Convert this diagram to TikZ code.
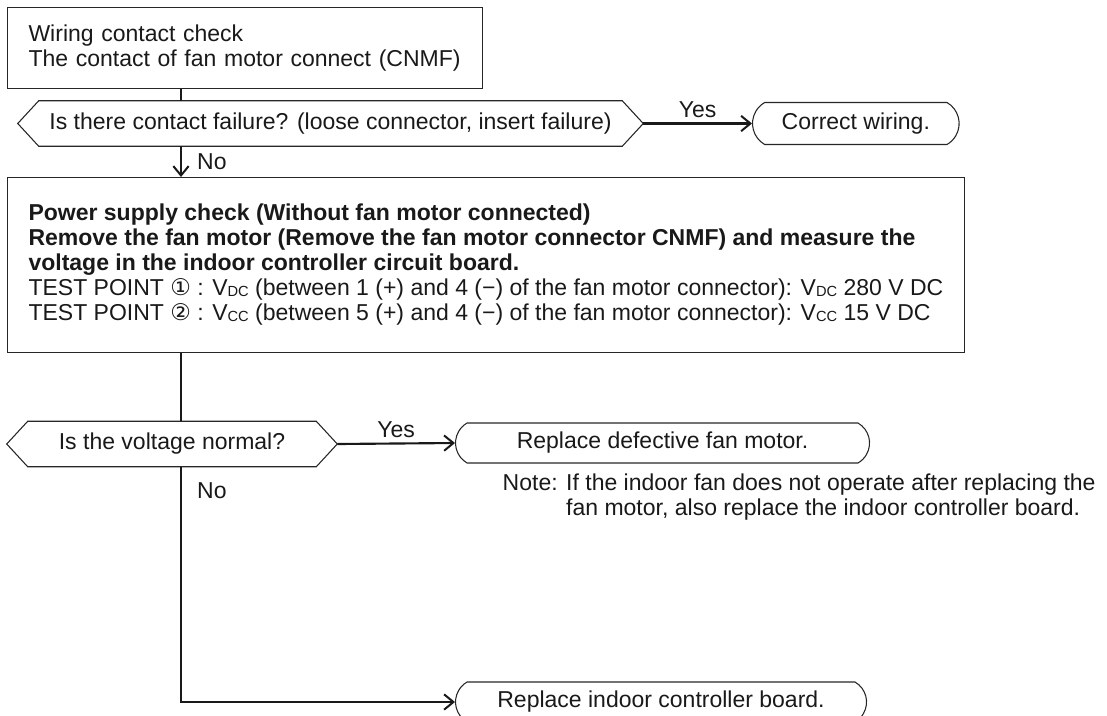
\documentclass[tikz,border=0pt]{standalone}
\usepackage{fontspec}
\setmainfont{Liberation Sans}
\newfontfamily\symfont{DejaVu Sans}
\usetikzlibrary{arrows.meta,shapes.misc}
\newcommand{\vsub}[1]{\raisebox{-0.7pt}{\fontsize{11}{11}\selectfont #1}}
\newcommand{\hexframe}[1]{\draw[shapeline] (#1.west) -- ([xshift=15.75pt]#1.north west) -- ([xshift=-15.75pt]#1.north east) -- (#1.east) -- ([xshift=-15.75pt]#1.south east) -- ([xshift=15.75pt]#1.south west) -- cycle;}

\begin{document}
\begin{tikzpicture}[x=0.75pt,y=0.75pt,yscale=-1,xscale=1,
  every node/.style={font=\fontsize{17.25}{18.75}\selectfont, text=black!90},
  shapeline/.style={draw=black!85, line width=0.8pt},
  stepbox/.style={shapeline, rectangle, align=left, inner xsep=15.75pt},
  askbox/.style={inner sep=0pt, minimum height=33.75pt},
  stopbox/.style={shapeline, rounded rectangle, rounded rectangle arc length=120, inner xsep=6pt},
  link/.style={line width=1.6pt, draw=black!90},
  flow/.style={link, -{Straight Barb[length=7pt,width=11.5pt,line width=1.5pt]}}]
%set diagram left start at 0, and has height of 715
\useasboundingbox (0,0) rectangle (1107,715);
\coordinate (spine) at (181,0);

%Wiring check
\node [stepbox, anchor=north west, text width=324.75pt, minimum height=60.75pt] (wiring) at (7,7) {Wiring contact check\\The contact of fan motor connect (CNMF)};
%Contact failure?
\node [askbox, minimum width=468.75pt] (contact) at (330.5,123.5) {Is there contact failure? (loose connector, insert failure)};
\hexframe{contact}
\node [stopbox, anchor=west, minimum height=31.5pt, inner xsep=20pt] (rewire) at (752,123.5) {Correct wiring.};

%Power supply check
\node [stepbox, anchor=north west, minimum height=131.25pt] (supply) at (7,177) {\textbf{Power supply check (Without fan motor connected)}\\
\textbf{Remove the fan motor (Remove the fan motor connector CNMF) and measure the}\\
\textbf{voltage in the indoor controller circuit board.}\\
TEST POINT {\symfont ①} : V\vsub{DC} (between 1 (+) and 4 (−) of the fan motor connector): V\vsub{DC} 280 V DC\\
TEST POINT {\symfont ②} : V\vsub{CC} (between 5 (+) and 4 (−) of the fan motor connector): V\vsub{CC} 15 V DC};

%Voltage normal?
\node [askbox, minimum width=247.5pt] (voltage) at (172,444) {Is the voltage normal?};
\hexframe{voltage}
\node [stopbox, anchor=west, minimum width=322.5pt, minimum height=30pt] (motor) at (455,443) {Replace defective fan motor.};
\node [anchor=north west, align=left] (note) at (498,469) {Note: If the indoor fan does not operate after replacing the\\\phantom{Note: }fan motor, also replace the indoor controller board.};
\node [stopbox, anchor=west, minimum width=320.25pt, minimum height=30pt] (board) at (455,702) {Replace indoor controller board.};

%Connectors
\draw [link] (wiring.south -| spine) -- (contact.north -| spine);
\draw [flow] (contact.south -| spine) -- node [right, xshift=8pt] {No} (supply.north -| spine);
\draw [flow] (contact.east) -- node [above] {Yes} (rewire.west);
\draw [link] (supply.south -| spine) -- (voltage.north -| spine);
\draw [flow] (voltage.east) -- node [above] {Yes} (motor.west);
\draw [flow] (voltage.south -| spine) |- node [pos=0.05, right, xshift=8pt] {No} (board.west);

\end{tikzpicture}
\end{document}
